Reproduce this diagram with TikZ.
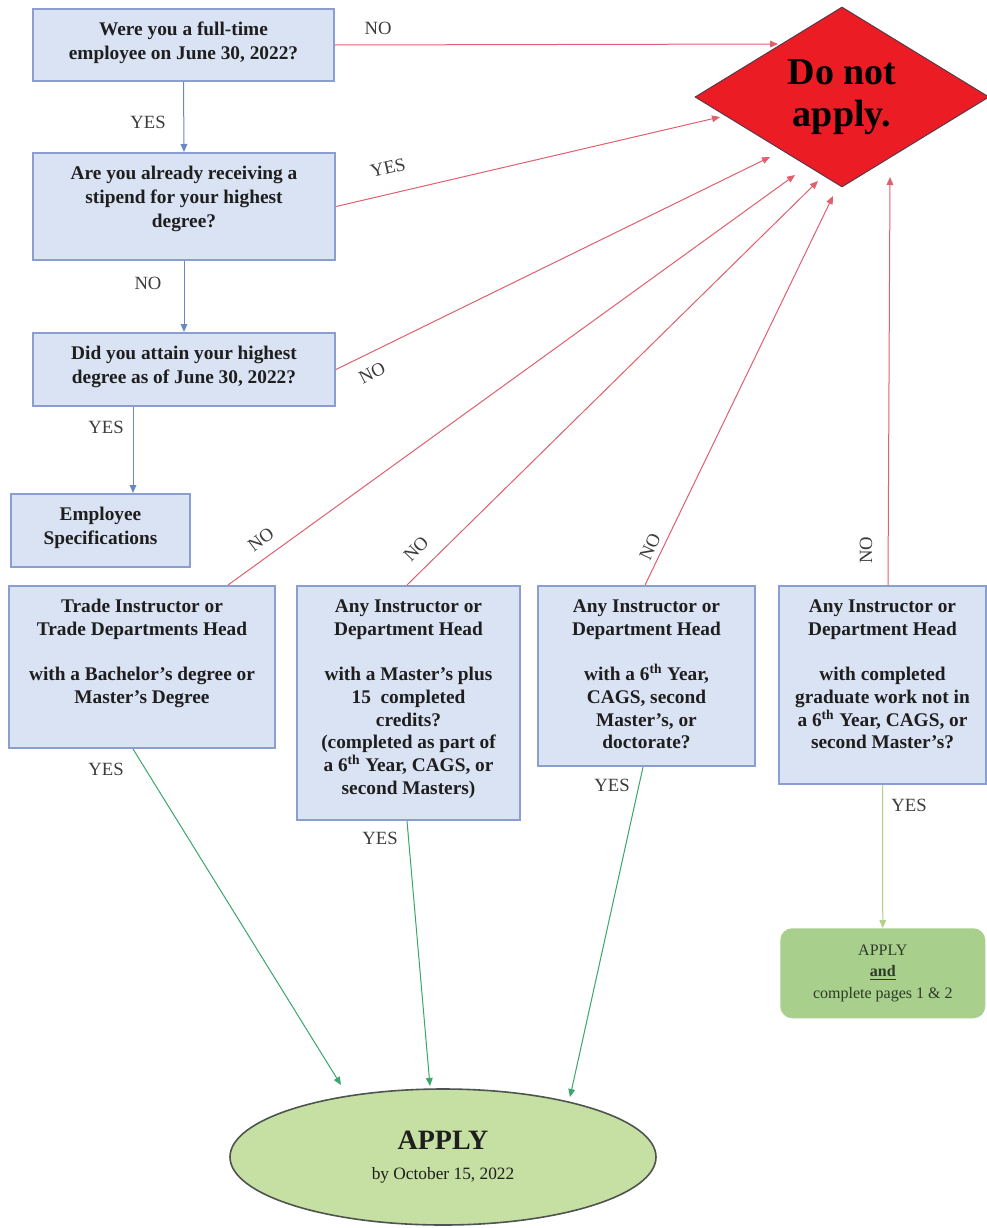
\documentclass[tikz,border=0pt]{standalone}
\usepackage{fontspec}
\setmainfont{Liberation Serif}
\usetikzlibrary{shapes.geometric,arrows.meta,calc}
\definecolor{boxfill}{HTML}{DAE3F3}
\definecolor{boxline}{HTML}{8A9FCF}
\definecolor{bluearr}{HTML}{6A88C4}
\definecolor{redarr}{HTML}{E0606E}
\definecolor{dnfill}{HTML}{EC1C24}
\definecolor{dnline}{HTML}{5A3848}
\definecolor{grarr}{HTML}{3AA56C}
\definecolor{ygarr}{HTML}{B4CF88}
\definecolor{ellfill}{HTML}{C6DFA2}
\definecolor{ellline}{HTML}{4E5550}
\definecolor{gbfill}{HTML}{A8CF8C}
\definecolor{lbl}{HTML}{3C3C3C}
\definecolor{txt}{HTML}{1E1E1E}
\definecolor{gtxt}{HTML}{2E3A28}
\newcommand{\boxtxt}[3]{\parbox[c][#2][t]{#1}{\centering\rule{0pt}{20pt}#3}}
\begin{document}
\begin{tikzpicture}[x=0.75pt,y=-0.75pt,
  qbox/.style={draw=boxline, line width=1.5pt, fill=boxfill, inner sep=0pt, anchor=north west,
    font=\fontsize{14.5}{18}\selectfont\bfseries, text=txt},
  lbox/.style={qbox, font=\fontsize{14.5}{17}\selectfont\bfseries},
  arr/.style={line width=0.75pt,-{Triangle[length=6pt,width=5pt]}},
  lab/.style={font=\fontsize{14}{16}\selectfont, text=lbl, inner sep=0pt}]
\fill[white] (0,0) rectangle (987,1228);
\useasboundingbox (0,0) rectangle (987,1228);

% question boxes
\node[qbox] (b1) at (32,8) {\boxtxt{225.75pt}{54pt}{Were you a full-time\\employee on June 30, 2022?}};
\node[qbox] (b2) at (32,152) {\boxtxt{226.5pt}{80.25pt}{Are you already receiving a\\stipend for your highest\\degree?}};
\node[qbox] (b3) at (32,332) {\boxtxt{226.5pt}{54.75pt}{Did you attain your highest\\degree as of June 30, 2022?}};
\node[qbox] (emp) at (10,493) {\boxtxt{134.25pt}{54.75pt}{Employee\\Specifications}};
\node[lbox] (trade) at (8,585) {\boxtxt{199.5pt}{121.5pt}{Trade Instructor or\\Trade Departments Head\\~\\with a Bachelor’s degree or\\Master’s Degree}};
\node[lbox] (mast) at (296,585) {\boxtxt{167.25pt}{175.5pt}{Any Instructor or\\Department Head\\~\\with a Master’s plus\\15 \ completed\\credits?\\(completed as part of\\a 6\textsuperscript{th} Year, CAGS, or\\second Masters)}};
\node[lbox] (six) at (537,585) {\boxtxt{162.75pt}{135pt}{Any Instructor or\\Department Head\\~\\with a 6\textsuperscript{th} Year,\\CAGS, second\\Master’s, or\\doctorate?}};
\node[lbox] (grad) at (778,585) {\boxtxt{155.25pt}{148.5pt}{Any Instructor or\\Department Head\\~\\with completed\\graduate work not in\\a 6\textsuperscript{th} Year, CAGS, or\\second Master’s?}};

% outcomes
\node[diamond, aspect=1.63, draw=dnline, line width=0.75pt, fill=dnfill, minimum width=220.5pt, minimum height=135pt,
  inner sep=0pt, align=center, font=\fontsize{28.5}{32}\selectfont\bfseries, text=black] (dna) at (842,97) {Do not\\apply.};
\node[ellipse, draw=ellline, line width=1.2pt, fill=ellfill, minimum width=319.5pt, minimum height=102pt,
  inner sep=0pt, align=center, font=\fontsize{13}{22}\selectfont, text=txt] (ell) at (443,1157)
  {{\fontsize{21}{24}\selectfont\bfseries APPLY}\\by October 15, 2022};
\node[rounded corners=9pt, fill=gbfill, minimum width=153.75pt, minimum height=67.5pt, inner sep=0pt,
  align=center, font=\fontsize{12}{16}\selectfont, text=gtxt, anchor=north west] (gb) at (780,928)
  {APPLY\\\textbf{\underline{and}}\\complete pages 1 \& 2};

% arrow end points
\coordinate (t1) at (778,44);
\coordinate (t2) at (720,117);
\coordinate (t3) at (770,157);
\coordinate (t4) at (795,175);
\coordinate (t5) at (818,181);
\coordinate (t6) at (833,196);
\coordinate (t7) at (890,177);
\coordinate (a1) at (341,1085);
\coordinate (a2) at (430,1086);
\coordinate (a3) at (570,1097);

% red connectors
\draw[arr, redarr] (b1.east) -- (t1);
\draw[arr, redarr] (b2.east) -- (t2);
\draw[arr, redarr] (b3.east) -- (t3);
\draw[arr, redarr] ($(trade.north west)+(220,0)$) -- (t4);
\draw[arr, redarr] ($(mast.north west)+(111,0)$) -- (t5);
\draw[arr, redarr] ($(six.north west)+(108,0)$) -- (t6);
\draw[arr, redarr] ($(grad.north west)+(110,0)$) -- (t7);

% blue connectors
\draw[arr, bluearr] (b1.south) -- (b2.north);
\draw[arr, bluearr] (b2.south) -- (b3.north);
\draw[arr, bluearr] ($(b3.south west)+(101,0)$) -- ($(emp.north west)+(123,0)$);

% green connectors
\draw[arr, grarr] ($(trade.south west)+(125,0)$) -- (a1);
\draw[arr, grarr] ($(mast.south west)+(111,0)$) -- (a2);
\draw[arr, grarr] ($(six.south west)+(106,0)$) -- (a3);
\draw[arr, ygarr] (grad.south) -- (gb.north);

% labels
\node[lab] (l1) at (378,28) {NO};
\node[lab] (l2) at (148,122) {YES};
\node[lab] (l3) at (148,283) {NO};
\node[lab] (l4) at (106,427) {YES};
\node[lab, rotate=13] (l5) at (388,168) {YES};
\node[lab, rotate=27] (l6) at (372,373) {NO};
\node[lab, rotate=37] (l7) at (261,540) {NO};
\node[lab, rotate=46] (l8) at (416,549) {NO};
\node[lab, rotate=65] (l9) at (650,547) {NO};
\node[lab, rotate=90] (l10) at (866,550) {NO};
\node[lab] (l11) at (106,769) {YES};
\node[lab] (l12) at (380,838) {YES};
\node[lab] (l13) at (612,785) {YES};
\node[lab] (l14) at (909,805) {YES};
\end{tikzpicture}
\end{document}
